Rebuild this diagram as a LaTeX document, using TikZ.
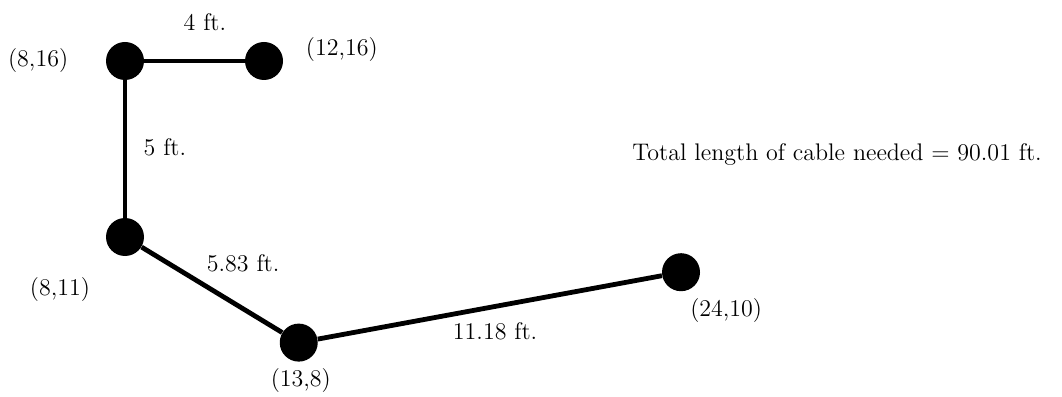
\documentclass[tikz,border=0pt]{standalone}
\usepackage{amsmath}
\usepackage{amssymb}

\begin{document}
\begin{tikzpicture}[x=17.375pt,y=17.6pt,every node/.style={font=\large}]
\useasboundingbox (4.403,6.483) rectangle (34.964,17.733);
\tikzset{spot/.style={circle,fill=black,inner sep=0pt,minimum size=19pt}}
\tikzset{cable/.style={draw=black,line width=2.4pt}}
% points:
\node[spot] (p816) at (8,16) {};
\node[spot] (p1216) at (12,16) {};
\node[spot] (p811) at (8,11) {};
\node[spot] (p138) at (13,8) {};
\node[spot] (p2410) at (24,10) {};
% cable runs:
\path[cable] (p816) -- (p1216);
\path[cable] (p816) -- (p811);
\path[cable] (p811) -- (p138);
\path[cable] (p138) -- (p2410);
% coordinate labels:
\node (l816) at (5.5,16) {(8,16)};
\node (l1216) at (14.24,16.34) {(12,16)};
\node (l811) at (6.13,9.52) {(8,11)};
\node (l138) at (13.06,6.91) {(13,8)};
\node (l2410) at (25.3,8.9) {(24,10)};
% lengths:
\node (d1) at (10.3,17.1) {4 ft.};
\node (d2) at (9.15,13.56) {5 ft.};
\node (d3) at (11.4,10.26) {5.83 ft.};
\node (d4) at (18.65,8.33) {11.18 ft.};
\node (total) at (28.49,13.33) {Total length of cable needed = 90.01 ft.};
\end{tikzpicture}
\end{document}
